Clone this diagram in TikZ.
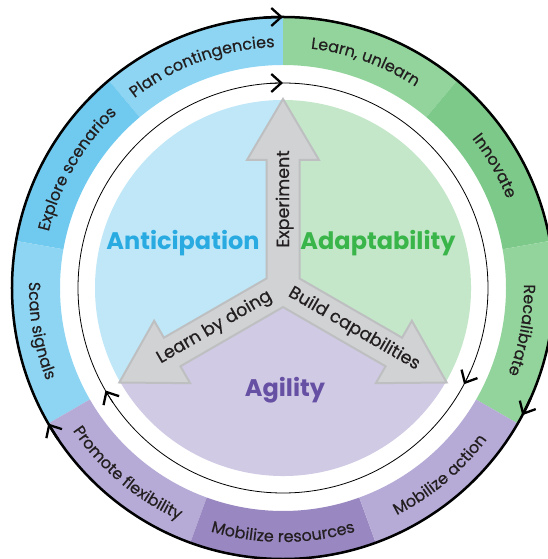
\documentclass[tikz,border=0pt]{standalone}
\usepackage{fontspec}
\usetikzlibrary{arrows.meta,calc,decorations.text}
\newfontfamily\labelfont{Poppins}
\newfontfamily\ringfam[FakeBold=0.5]{Poppins}
\definecolor{antring}{RGB}{141,213,242}
\definecolor{antringdk}{RGB}{112,201,238}
\definecolor{adpring}{RGB}{146,212,156}
\definecolor{adpringdk}{RGB}{125,201,138}
\definecolor{agiring}{RGB}{182,171,214}
\definecolor{agiringdk}{RGB}{153,135,193}
\definecolor{antdisk}{RGB}{191,231,247}
\definecolor{adpdisk}{RGB}{196,231,201}
\definecolor{agidisk}{RGB}{208,202,228}
\definecolor{anttext}{RGB}{41,171,226}
\definecolor{adptext}{RGB}{57,181,74}
\definecolor{agitext}{RGB}{102,80,164}
\definecolor{armgray}{RGB}{209,210,212}
\definecolor{armedge}{RGB}{190,191,193}
\definecolor{inkdark}{RGB}{35,31,32}
\newcommand\ringfont{\ringfam\fontsize{16bp}{19bp}\selectfont}

\begin{document}
\begin{tikzpicture}[x=1bp,y=1bp,
    title/.style={font=\labelfont\bfseries\fontsize{24bp}{28bp}\selectfont,inner sep=0pt},
    armtext/.style={font=\ringfam\fontsize{17.5bp}{20bp}\selectfont,text=inkdark,inner sep=0pt},
    cycletip/.style={-{Straight Barb[length=10bp,width=18bp,line width=2.3bp]},draw=black}]
  \fill[white] (-283,-271) rectangle (265,288);
  \clip (-283,-271) rectangle (265,288);
  \useasboundingbox (-283,-271) rectangle (265,288);
  % outer ring
  \foreach \a/\b/\c in {90/130/antring,130/170/antringdk,170/210/antring,
      50/90/adpring,10/50/adpringdk,-30/10/adpring,
      210/250/agiring,250/290/agiringdk,290/330/agiring}{
    \fill[\c] (\a:223) arc (\a:\b:223) -- (\b:272) arc (\b:\a:272) -- cycle;
  }
  \draw[line width=2.5bp] (0,0) circle (271);
  % ring labels, clockwise on top, counterclockwise below
  \foreach \m/\t in {110/Plan contingencies,150/Explore scenarios,70/{Learn, unlearn},30/Innovate,-10/Recalibrate}{
    \path[decorate,decoration={text along path,text align=center,text color=inkdark,
        text/.expanded={|\noexpand\ringfont|\t}}] ({\m+28}:241) arc ({\m+28}:{\m-28}:241);
  }
  \foreach \m/\t in {190/Scan signals,230/Promote flexibility,270/Mobilize resources,310/Mobilize action}{
    \path[decorate,decoration={text along path,text align=center,text color=inkdark,
        text/.expanded={|\noexpand\ringfont|\t}}] ({\m-28}:254) arc ({\m-28}:{\m+28}:254);
  }
  % inner cycle
  \draw[line width=0.8bp] (0,0) circle (205);
  \foreach \a in {90,-28,210}{
    \draw[cycletip,line width=2.5bp] ({\a+4}:271) arc ({\a+4}:\a:271);
    \draw[cycletip,line width=0.8bp] ({\a+4}:205) arc ({\a+4}:\a:205);
  }
  % disk
  \fill[antdisk] (0,0) -- (90:188) arc (90:210:188) -- cycle;
  \fill[adpdisk] (0,0) -- (-30:188) arc (-30:90:188) -- cycle;
  \fill[agidisk] (0,0) -- (210:188) arc (210:330:188) -- cycle;
  % three arms
  \draw[fill=armgray,draw=armedge,line width=2bp,line join=miter] (-90:19.05)
    \foreach \a in {-30,90,210}{
      -- ($(\a:128)+({\a-90}:16.5)$) -- ($(\a:128)+({\a-90}:36)$) -- (\a:189)
      -- ($(\a:128)+({\a+90}:36)$) -- ($(\a:128)+({\a+90}:16.5)$) -- ({\a+60}:19.05)
    } -- cycle;
  \node[title,text=anttext,anchor=base] (antlabel) at (-100,38) {Anticipation};
  \node[title,text=adptext,anchor=base] (adplabel) at (95,38) {Adaptability};
  \node[title,text=agitext,anchor=base] (agilabel) at (2,-108) {Agility};
  \node[armtext,rotate=90,anchor=base] (experiment) at (6,89) {Experiment};
  \node[armtext,rotate=30] (doing) at (210:79) {Learn by doing};
  \node[armtext,rotate=-30] (build) at (-30:82) {Build capabilities};
\end{tikzpicture}
\end{document}
